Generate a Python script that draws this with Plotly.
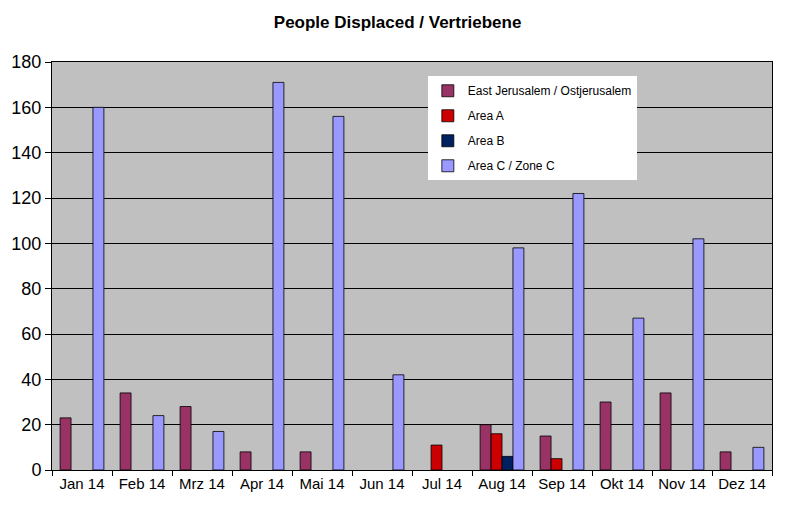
import plotly.graph_objects as go

months = ["Jan 14", "Feb 14", "Mrz 14", "Apr 14", "Mai 14", "Jun 14",
          "Jul 14", "Aug 14", "Sep 14", "Okt 14", "Nov 14", "Dez 14"]
east_jerusalem = [23, 34, 28, 8, 8, None, None, 20, 15, 30, 34, 8]
area_a = [None, None, None, None, None, None, 11, 16, 5, None, None, None]
area_b = [None, None, None, None, None, None, None, 6, None, None, None, None]
area_c = [160, 24, 17, 171, 156, 42, None, 98, 122, 67, 102, 10]
y_ticks = [0, 20, 40, 60, 80, 100, 120, 140, 160, 180]

series = [
    ("East Jerusalem / Ostjerusalem", east_jerusalem, "#993366"),
    ("Area A", area_a, "#CC0000"),
    ("Area B", area_b, "#002060"),
    ("Area C / Zone C", area_c, "#9999FF"),
]

fig = go.Figure()
for i, (name, vals, col) in enumerate(series):
    fig.add_trace(go.Bar(
        x=months, y=vals, name=name, legendgroup=f"g{i}",
        marker=dict(color=col, line=dict(color="#000000", width=0.8)),
    ))

font = "Liberation Sans, Arial, sans-serif"
fig.update_layout(
    width=800, height=517,
    margin=dict(l=52, r=28, t=62, b=47),
    paper_bgcolor="white",
    plot_bgcolor="#C0C0C0",
    barmode="group",
    bargap=0.27,
    bargroupgap=0,
    title=dict(text="<b>People Displaced / Vertriebene</b>", x=0.497, xanchor="center",
               y=0.957, yanchor="middle",
               font=dict(family=font, size=17, color="black")),
    font=dict(family=font, size=15, color="black"),
    legend=dict(
        x=0.522, y=0.965, xanchor="left", yanchor="top",
        bgcolor="white", borderwidth=0,
        font=dict(family=font, size=12, color="black"),
        tracegroupgap=6, itemwidth=30,
        traceorder="grouped",
    ),
    xaxis=dict(
        type="category", tickson="boundaries", ticks="outside", ticklen=5,
        tickcolor="black", showline=True, linecolor="black", linewidth=1,
        mirror=True, showgrid=False,
        tickfont=dict(family=font, size=15, color="black"),
    ),
    yaxis=dict(
        range=[0, 180], tickvals=y_ticks, ticks="outside", ticklen=6,
        tickcolor="black", showline=True, linecolor="black", linewidth=1,
        mirror=True, showgrid=True, gridcolor="#000000", gridwidth=1,
        tickfont=dict(family=font, size=18, color="black"),
        zeroline=False,
    ),
)

fig.write_html("out.html")
